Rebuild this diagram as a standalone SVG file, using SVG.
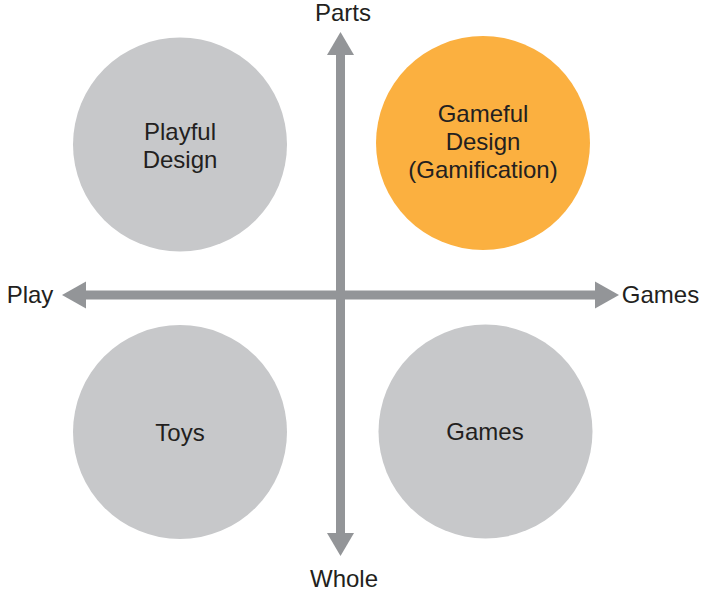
<svg xmlns="http://www.w3.org/2000/svg" width="723" height="598" viewBox="0 0 723 598">
<style>
.lbl{font-family:"Liberation Sans","DejaVu Sans",sans-serif;font-size:24px;fill:#231f20;text-anchor:middle}
.gray{fill:#c7c8ca}
.orange{fill:#fbb040}
.ax{stroke:#939598;stroke-width:9;fill:none}
.head{fill:#939598}
</style>
<rect width="723" height="598" fill="#ffffff"/>
<g id="playful-design">
<circle class="gray" cx="180" cy="144.5" r="107"/>
<text class="lbl" x="180" y="140">Playful</text>
<text class="lbl" x="180" y="168">Design</text>
</g>
<g id="gameful-design">
<circle class="orange" cx="483" cy="143" r="107"/>
<text class="lbl" x="483" y="122">Gameful</text>
<text class="lbl" x="483" y="150">Design</text>
<text class="lbl" x="483" y="178">(Gamification)</text>
</g>
<g id="toys">
<circle class="gray" cx="180" cy="432" r="107"/>
<text class="lbl" x="180" y="441">Toys</text>
</g>
<g id="games">
<circle class="gray" cx="485.5" cy="431.5" r="107"/>
<text class="lbl" x="485" y="440">Games</text>
</g>
<g id="connectors">
<line class="ax" x1="340.5" y1="54" x2="340.5" y2="534"/>
<polygon class="head" points="340.5,32 327,55 354,55"/>
<polygon class="head" points="340.5,556 327,533 354,533"/>
<line class="ax" x1="85" y1="295" x2="596" y2="295"/>
<polygon class="head" points="62,295 86,281.5 86,308.5"/>
<polygon class="head" points="619,295 595,281.5 595,308.5"/>
</g>
<g id="axis-labels">
<text class="lbl" x="343" y="20.5">Parts</text>
<text class="lbl" x="344" y="587">Whole</text>
<text class="lbl" x="30" y="303">Play</text>
<text class="lbl" x="660.5" y="303">Games</text>
</g>
</svg>
